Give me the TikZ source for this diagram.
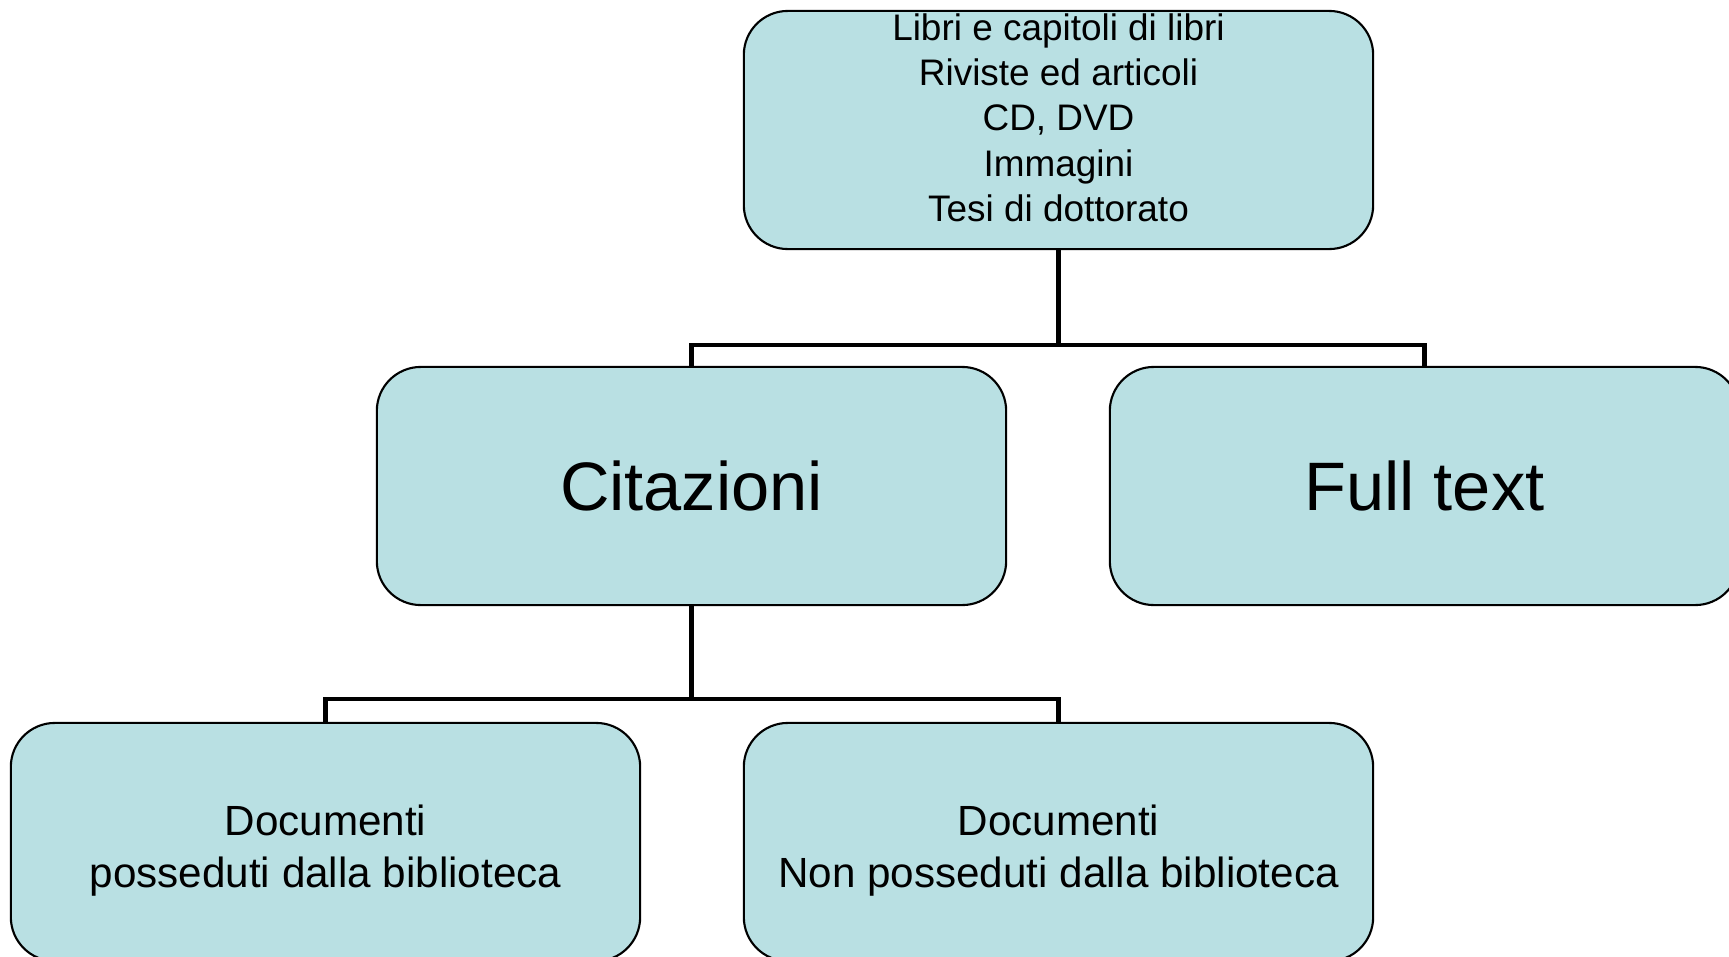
\documentclass[tikz,border=0pt]{standalone}
\usepackage{fontspec}
\setmainfont{Liberation Sans}
\definecolor{boxfill}{RGB}{185,224,227}
\begin{document}
\begin{tikzpicture}[x=0.01cm, y=-0.01cm,
	box/.style={draw, fill=boxfill, line width=0.6pt, rounded corners=0.44cm, minimum width=6.29cm, minimum height=2.38cm, inner sep=0pt, align=center},
	conn/.style={line width=1.4pt},
	big/.style={font=\fontsize{19.5}{23}\selectfont},
	mid/.style={font=\fontsize{12}{14.8}\selectfont},
	small/.style={font=\fontsize{10.5}{12.87}\selectfont}]
	\useasboundingbox (0,0) rectangle (1729,957);
	\node[box] (src) at (1058.5, 130) {};
	\node[small, anchor=north, inner sep=0pt, align=center] (srctext) at (1058.5, 13) {Libri e capitoli di libri\\Riviste ed articoli\\CD, DVD\\Immagini\\Tesi di dottorato};
	\node[box, big] (cit) at (691.5, 486) {Citazioni};
	\node[box, big] (full) at (1424.5, 486) {Full text};
	\node[box, mid] (poss) at (325.5, 842) {\rule{0pt}{13.4pt}Documenti\\posseduti dalla biblioteca};
	\node[box, mid] (nonposs) at (1058.5, 842) {\rule{0pt}{13.4pt}Documenti\\Non posseduti dalla biblioteca};
	\coordinate (b1) at (1058.5, 345);
	\coordinate (b2) at (691.5, 699);
	\draw[conn] (src) -- (b1);
	\draw[conn] (cit.north) |- (b1) -| (full.north);
	\draw[conn] (cit) -- (b2);
	\draw[conn] (poss.north) |- (b2) -| (nonposs.north);
\end{tikzpicture}
\end{document}
